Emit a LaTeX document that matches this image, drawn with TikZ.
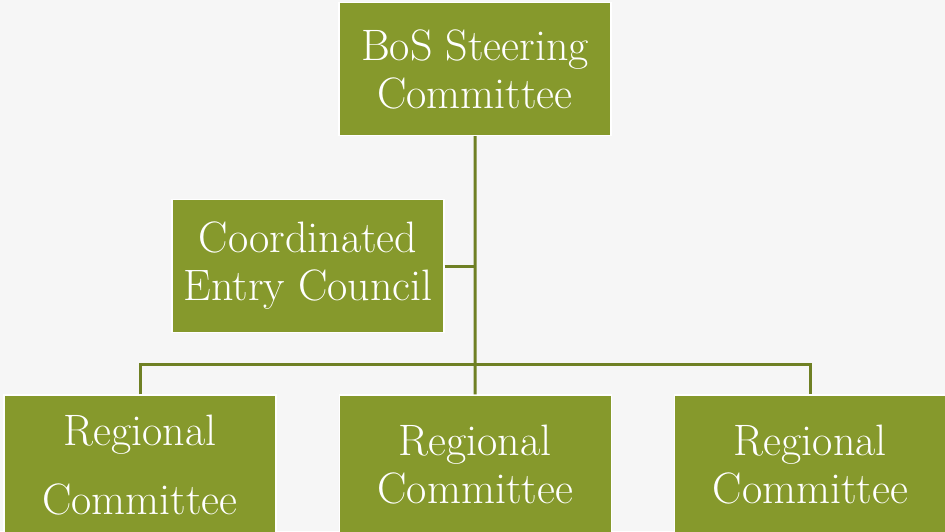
\documentclass[tikz,border=0pt]{standalone}
\usepackage{tikz}
\usetikzlibrary{positioning,calc}
\definecolor{olive}{HTML}{86992C}
\definecolor{linkolive}{HTML}{6F8024}
\definecolor{paper}{HTML}{F6F6F6}

\begin{document}
\begin{tikzpicture}[
      x=1pt, y=-1pt,
      committee/.style={draw=white, line width=1.2pt, fill=olive, text=white,
        inner sep=0pt, minimum width=272pt, minimum height=133pt, align=center,
        font=\fontsize{44}{48}\selectfont},
      link/.style={draw=linkolive, line width=3pt}
      ]

      % fond et dimensions de l'image
      \path[use as bounding box, fill=paper] (0,0) rectangle (945,531);

      \path node[committee] (steering) at (475,69) {BoS Steering\\Committee};
      \path node[committee] (council) at (308,266) {Coordinated\\Entry Council};

      \path node[committee, minimum height=140pt] (regional-left) at (140,465) {Regional\\[21pt]Committee};
      \path node[committee, minimum height=140pt, right=62pt of regional-left] (regional-mid) {Regional\\Committee};
      \path node[committee, minimum height=140pt, right=62pt of regional-mid] (regional-right) {Regional\\Committee};

      % les liens
      \coordinate (bar) at (475,364);
      \path[link] (steering) -- (regional-mid);
      \path[link] (council.east) -- (council.east -| steering);
      \path[link] (regional-left) |- (bar) -| (regional-right);
    \end{tikzpicture}
\end{document}
